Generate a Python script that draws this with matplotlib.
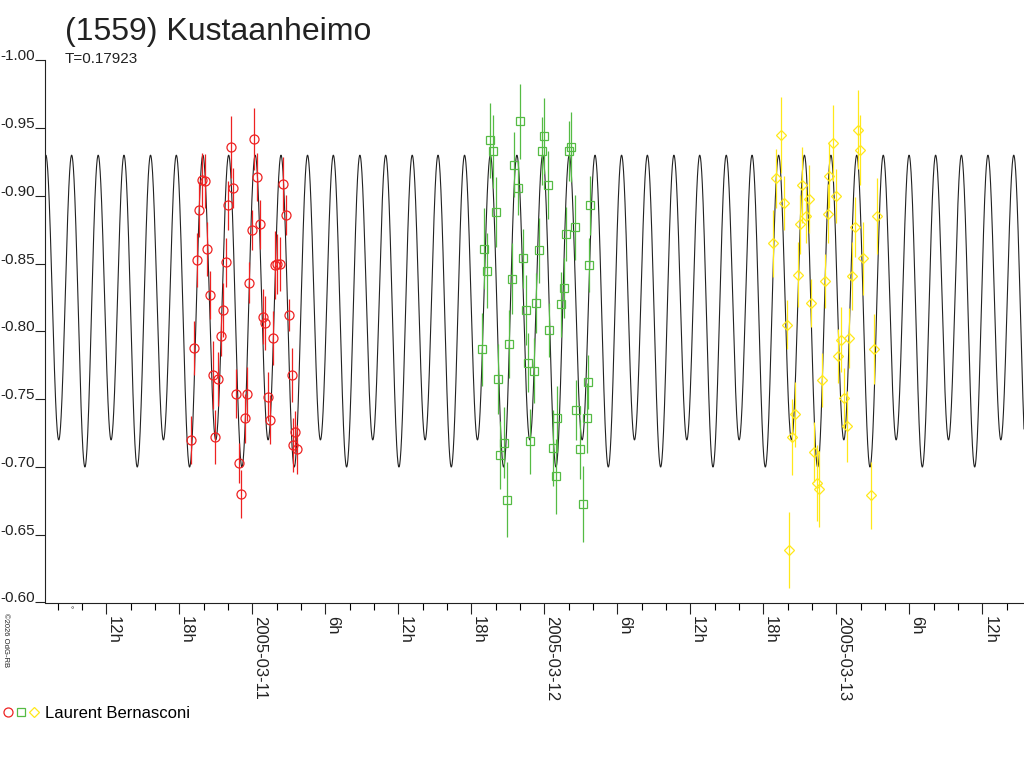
import numpy as np
import matplotlib
matplotlib.use("Agg")
import matplotlib.pyplot as plt
from matplotlib.legend_handler import HandlerTuple
from matplotlib.lines import Line2D

plt.rcParams['font.family'] = ['Liberation Sans', 'DejaVu Sans']
plt.rcParams['axes.unicode_minus'] = False

# time axis: hours from 2005-03-11 00:00
X_MIN, X_MAX = -17.03, 63.43

# lightcurve fit (2nd order Fourier), epoch = deep minimum
PERIOD_D = 0.17923
EPOCH_H = -13.75
MEAN_MAG = -0.82
AMP_1 = 0.01
AMP_2 = 0.11

# session 1 (red circles)
red_h = [0.16, -1.75, -4.11, -3.91, 0.41, 2.55, -1.56, -4.35, -2.00, 2.77,
         0.61, -0.02, -3.70, -4.52, -2.16, 1.87, 2.00, 2.28, -0.25, -3.48,
         2.99, -2.38, 0.85, 1.04, -2.60, -4.77, 1.70, -3.25, -2.79, 3.24,
         -1.31, -0.44, 1.27, -0.62, 1.48, 3.53, -5.01, -3.04, 3.37, 3.65,
         -1.09, -0.90]
red_mag = [-0.942, -0.936, -0.912, -0.911, -0.914, -0.909, -0.906, -0.890, -0.893, -0.886,
           -0.879, -0.875, -0.861, -0.853, -0.851, -0.849, -0.850, -0.850, -0.836, -0.827,
           -0.812, -0.816, -0.811, -0.806, -0.797, -0.788, -0.795, -0.768, -0.765, -0.768,
           -0.754, -0.754, -0.752, -0.736, -0.735, -0.726, -0.720, -0.722, -0.716, -0.713,
           -0.703, -0.680]
red_err = [0.023, 0.023, 0.020, 0.020, 0.018, 0.020, 0.015, 0.020, 0.018, 0.015,
           0.018, 0.015, 0.020, 0.020, 0.018, 0.025, 0.022, 0.020, 0.015, 0.018,
           0.012, 0.020, 0.020, 0.020, 0.015, 0.020, 0.020, 0.025, 0.020, 0.020,
           0.018, 0.020, 0.018, 0.018, 0.018, 0.015, 0.018, 0.020, 0.020, 0.018,
           0.015, 0.018]

# session 2 (green squares)
green_h = [21.99, 19.51, 19.75, 24.02, 23.78, 26.00, 26.24, 21.53, 21.81, 24.27,
           27.75, 20.00, 26.49, 25.80, 19.09, 22.24, 23.56, 27.66, 19.31, 21.34,
           25.61, 25.34, 23.33, 22.49, 24.43, 18.85, 21.09, 22.68, 23.12, 20.21,
           27.58, 26.62, 25.09, 27.50, 20.68, 20.35, 22.87, 24.71, 26.90, 24.95,
           20.90, 27.15]
green_mag = [-0.955, -0.941, -0.933, -0.944, -0.933, -0.933, -0.936, -0.923, -0.906, -0.908,
             -0.893, -0.888, -0.877, -0.872, -0.861, -0.854, -0.860, -0.849, -0.845, -0.839,
             -0.832, -0.820, -0.821, -0.816, -0.801, -0.787, -0.791, -0.777, -0.771, -0.765,
             -0.763, -0.742, -0.736, -0.736, -0.718, -0.709, -0.719, -0.714, -0.713, -0.693,
             -0.676, -0.673]
green_err = [0.028, 0.028, 0.027, 0.028, 0.025, 0.022, 0.026, 0.024, 0.020, 0.025,
             0.022, 0.026, 0.024, 0.020, 0.030, 0.022, 0.024, 0.020, 0.028, 0.026,
             0.022, 0.024, 0.022, 0.026, 0.020, 0.027, 0.025, 0.022, 0.024, 0.026,
             0.020, 0.022, 0.024, 0.026, 0.026, 0.025, 0.024, 0.028, 0.022, 0.028,
             0.028, 0.028]

# session 3 (yellow diamonds)
yel_h = [43.46, 43.03, 43.71, 42.78, 45.16, 45.73, 45.55, 45.00, 44.84, 45.90,
         43.93, 47.74, 47.44, 47.98, 47.30, 47.08, 49.77, 49.95, 49.54, 50.20,
         49.30, 51.33, 48.37, 49.08, 48.15, 51.14, 46.83, 48.64, 44.65, 44.37,
         48.89, 46.15, 46.40, 46.62, 50.86, 44.15]
yel_mag = [-0.945, -0.913, -0.895, -0.865, -0.908, -0.898, -0.885, -0.879, -0.842, -0.821,
           -0.805, -0.939, -0.915, -0.900, -0.887, -0.837, -0.949, -0.934, -0.877, -0.854,
           -0.841, -0.885, -0.794, -0.795, -0.782, -0.787, -0.764, -0.751, -0.739, -0.722,
           -0.730, -0.711, -0.688, -0.684, -0.679, -0.639]
yel_err = [0.028, 0.022, 0.020, 0.025, 0.028, 0.025, 0.020, 0.022, 0.024, 0.018,
           0.018, 0.028, 0.024, 0.020, 0.022, 0.020, 0.029, 0.026, 0.022, 0.027,
           0.025, 0.028, 0.024, 0.022, 0.020, 0.026, 0.020, 0.022, 0.024, 0.028,
           0.026, 0.022, 0.028, 0.028, 0.025, 0.028]

RED, GREEN, YELLOW = '#ee2222', '#55bb44', '#ffe81a'

fig = plt.figure(figsize=(10.24, 7.68), dpi=100)
ax = fig.add_axes([45 / 1024, (768 - 602.5) / 768, (1024 - 45) / 1024, 542 / 768])

# model curve
t = np.linspace(X_MIN, X_MAX, 6000)
phase = 2 * np.pi * (t - EPOCH_H) / (PERIOD_D * 24)
fit = MEAN_MAG + AMP_2 * np.cos(2 * phase) + AMP_1 * np.cos(phase)
ax.plot(t, fit, color='#222222', lw=0.8, zorder=1)

# observations
for h, m, e, col, mk, ms in [(red_h, red_mag, red_err, RED, 'o', 6.5),
                             (green_h, green_mag, green_err, GREEN, 's', 6),
                             (yel_h, yel_mag, yel_err, YELLOW, 'D', 5)]:
    ax.errorbar(h, m, yerr=e, fmt=mk, ms=ms, mfc='none', mec=col, mew=0.9,
                ecolor=col, elinewidth=0.9, capsize=0, zorder=2)

ax.set_xlim(X_MIN, X_MAX)
ax.set_ylim(-0.60, -1.00)

# y ticks
yt = np.arange(-1.00, -0.595, 0.05)
ax.set_yticks(yt)
ax.set_yticklabels(['%.2f' % v for v in yt])
ax.tick_params(axis='y', length=7, width=0.8, pad=0, labelsize=11, colors='#222222')
for lab in ax.get_yticklabels():
    lab.set_verticalalignment('baseline')

# x ticks: every 2h, labelled every 6h
major = [h for h in range(-12, 64, 6)]
labels = []
for h in major:
    if h % 24 == 0:
        labels.append('2005-03-%02d' % (11 + h // 24))
    else:
        labels.append('%dh' % (h % 24))
ax.set_xticks(major)
ax.set_xticklabels(labels)
ax.set_xticks([h for h in range(-16, 64, 2) if h % 6 != 0], minor=True)
ax.tick_params(axis='x', which='major', length=8, width=0.8, pad=1.5, labelsize=12,
               labelrotation=-90, colors='#222222')
ax.tick_params(axis='x', which='minor', length=5, width=0.8)
for lab in ax.get_xticklabels():
    lab.set_horizontalalignment('left')
    lab.set_verticalalignment('top')

for s in ['top', 'right']:
    ax.spines[s].set_visible(False)
for s in ['left', 'bottom']:
    ax.spines[s].set_linewidth(0.8)
    ax.spines[s].set_color('#222222')

# texts
fig.text(65 / 1024, 1 - 40 / 768, '(1559) Kustaanheimo', fontsize=23, color='#222222', va='baseline')
fig.text(65 / 1024, 1 - 63 / 768, 'T=0.17923', fontsize=11, color='#222222', va='baseline')
fig.text(2 / 1024, 1 - 613 / 768, '\u00a92026 OdG-RB', fontsize=5.5, rotation=-90,
         va='top', ha='left', color='#222222')
fig.text(72 / 1024, 1 - 612 / 768, '\u00b0', fontsize=6, ha='center', color='#222222')

# legend
hr = Line2D([], [], ls='none', marker='o', ms=6.5, mfc='none', mec=RED, mew=0.9)
hg = Line2D([], [], ls='none', marker='s', ms=6, mfc='none', mec=GREEN, mew=0.9)
hy = Line2D([], [], ls='none', marker='D', ms=5, mfc='none', mec=YELLOW, mew=0.9)
fig.legend([(hr, hg, hy)], ['Laurent Bernasconi'], loc='center left',
           bbox_to_anchor=(0, 1 - 713 / 768), frameon=False, fontsize=12,
           handler_map={tuple: HandlerTuple(ndivide=None, pad=0)},
           handlelength=2.3, handletextpad=0.3, borderpad=0, borderaxespad=0.1)

fig.savefig('out.png', dpi=100)
